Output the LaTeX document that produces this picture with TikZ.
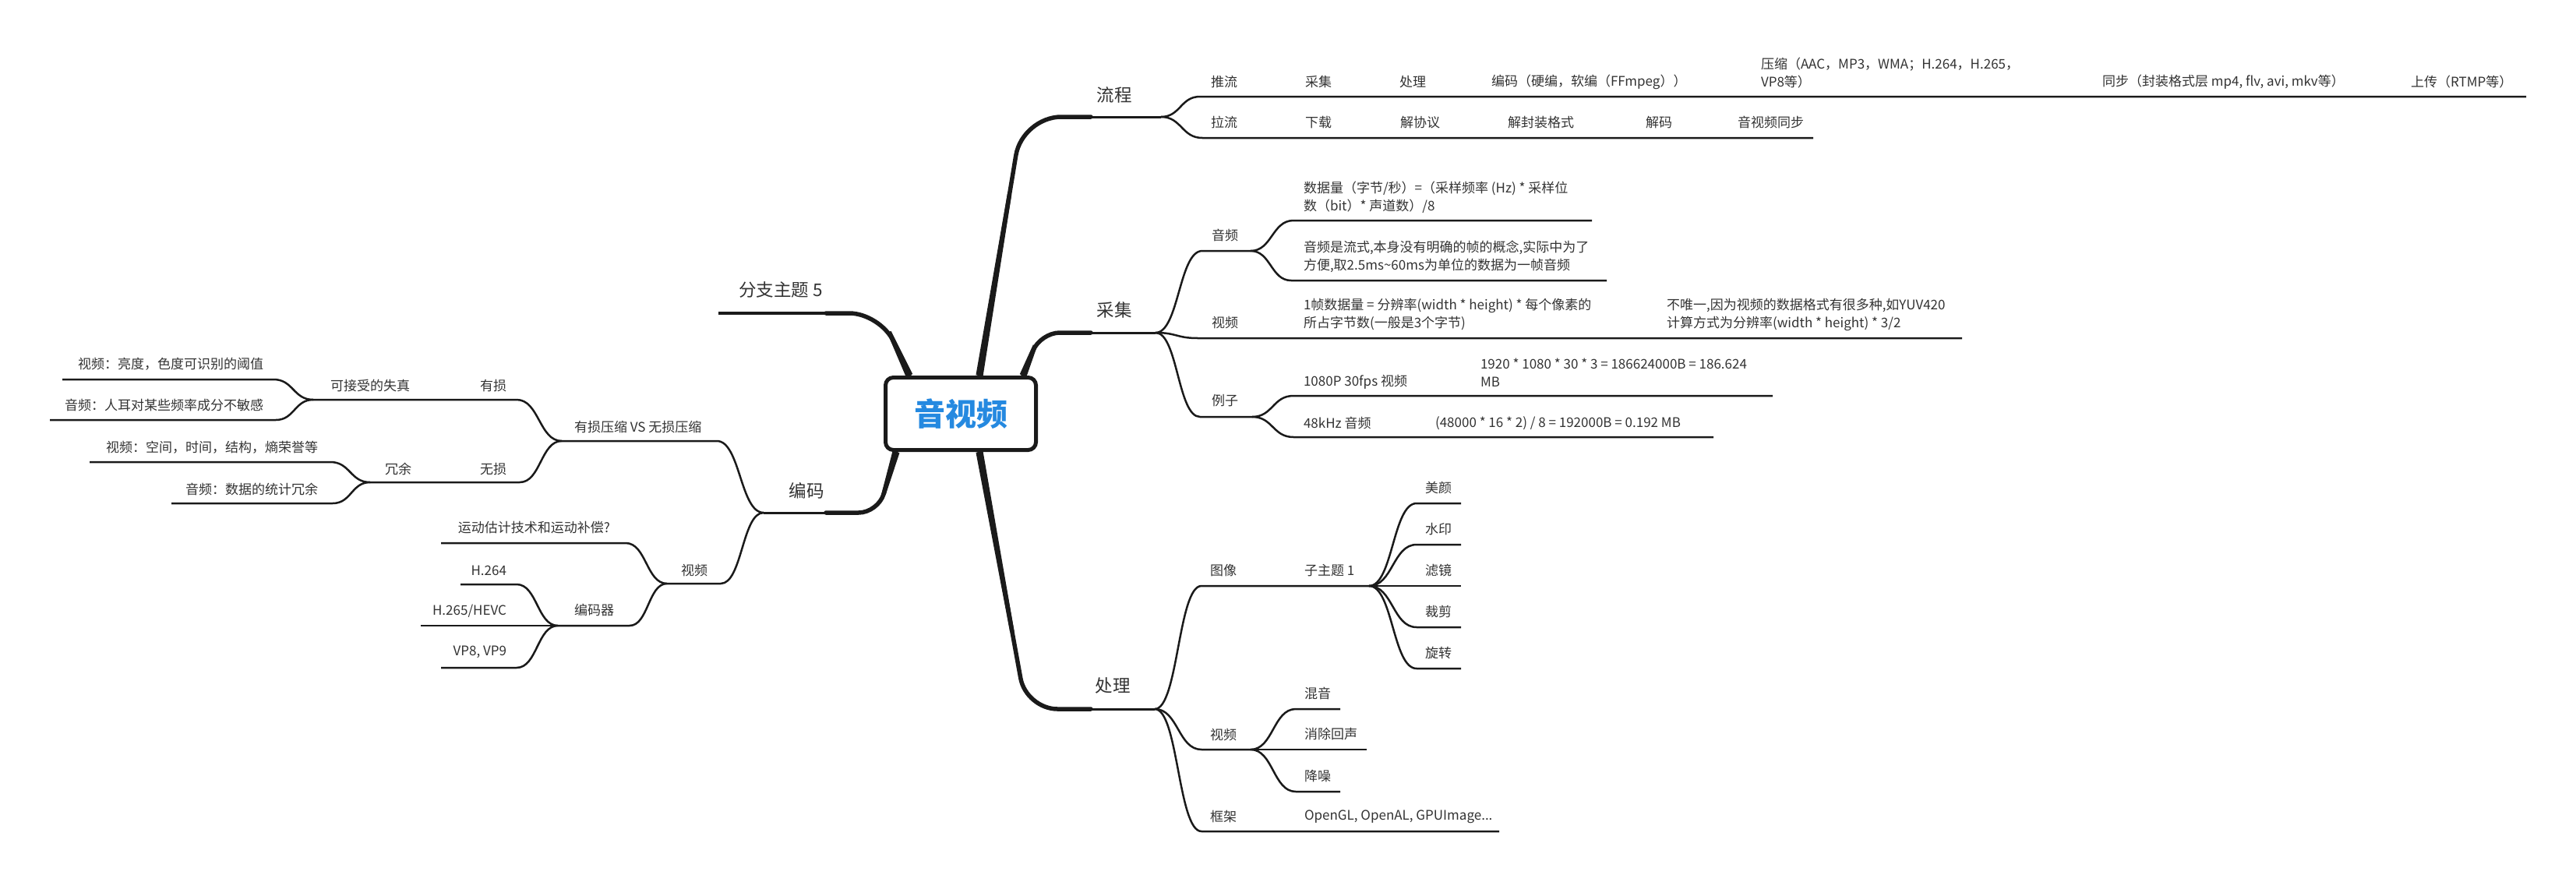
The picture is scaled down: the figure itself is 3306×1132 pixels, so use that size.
\documentclass[tikz,border=0pt]{standalone}
\usepackage{fontspec}
\setmainfont{Noto Sans CJK SC}
\usetikzlibrary{calc}
\definecolor{ink}{HTML}{1A1A1A}
\definecolor{txtc}{HTML}{333333}
\definecolor{rootblue}{HTML}{2589E0}

\tikzset{
  every node/.style={inner sep=0pt, outer sep=0pt, text=txtc},
  lbl/.style={font=\fontsize{17}{23}\selectfont, anchor=west, align=left},
  lblr/.style={font=\fontsize{17}{23}\selectfont, anchor=east, align=right},
  big/.style={font=\fontsize{22.5}{28}\selectfont},
  trunk/.style={draw=ink, line width=5.5pt, rounded corners=#1, line cap=round},
  trunk/.default=40pt,
  stem/.style={draw=ink, line width=3pt},
  twig/.style={draw=ink, line width=2.5pt},
  scurve/.style={to path={let \p1=(\tikztostart), \p2=(\tikztotarget) in
      .. controls (\x1/2+\x2/2,\y1) and (\x1/2+\x2/2,\y2) .. (\tikztotarget)}},
}
% thicker, tapering root end of a main branch: #1 = point on the box, #2 = corner
\newcommand\taperroot[2]{%
  \fill[ink] ($(#1)!4.6pt!90:(#2)$) -- ($($(#1)!0.7!(#2)$)!2.75pt!90:(#2)$)
          -- ($($(#1)!0.7!(#2)$)!2.75pt!-90:(#2)$) -- ($(#1)!4.6pt!-90:(#2)$) -- cycle;}

\begin{document}
\begin{tikzpicture}[x=1pt, y=-1pt]
\fill[white] (0,0) rectangle (3306,1132);
\useasboundingbox (0,0) rectangle (3306,1132);

% ================= 流程 =================
\coordinate (lcB) at (1257,482);
\coordinate (lcK) at (1312,150);
\coordinate (lcE) at (1400,150);
\coordinate (lcJ) at (1490,150);
\draw[trunk=50pt] (lcB) -- (lcK) -- (lcE);
\taperroot{lcB}{lcK}
\draw[stem] (lcE) -- (lcJ);
\node[big] (liucheng) at (1430,122) {流程};

\coordinate (tuiS) at (1540,124); \coordinate (tuiE) at (3242,124);
\coordinate (laS) at (1543,177);  \coordinate (laE) at (2327,177);
\draw[twig] (lcJ) to[scurve] (tuiS) -- (tuiE);
\draw[twig] (lcJ) to[scurve] (laS) -- (laE);

\node[lbl] (tl) at (1554,105) {推流};
\node[lbl] (t2) at (1675,105) {采集};
\node[lbl] (t3) at (1796,105) {处理};
\node[lbl] (t4) at (1914,105) {编码（硬编，软编（FFmpeg））};
\node[lbl] (t5) at (2260,93.5) {压缩（AAC，MP3，WMA；H.264，H.265，\\VP8等）};
\node[lbl] (t6) at (2698,105) {同步（封装格式层 mp4, flv, avi, mkv等）};
\node[lbl] (t7) at (3094,105) {上传（RTMP等）};

\node[lbl] (p1) at (1554,157) {拉流};
\node[lbl] (p2) at (1675,157) {下载};
\node[lbl] (p3) at (1797,157) {解协议};
\node[lbl] (p4) at (1935,157) {解封装格式};
\node[lbl] (p5) at (2112,157) {解码};
\node[lbl] (p6) at (2230,157) {音视频同步};

% ================= 采集 =================
\coordinate (cjB) at (1313,482);
\coordinate (cjK) at (1335,427);
\coordinate (cjE) at (1400,427);
\coordinate (cjJ) at (1483,427);
\draw[trunk=25pt] (cjB) -- (cjK) -- (cjE);
\taperroot{cjB}{cjK}
\draw[stem] (cjE) -- (cjJ);
\node[big] (caiji) at (1430,398) {采集};

% 音频
\coordinate (ypS) at (1543,322); \coordinate (ypJ) at (1605,322);
\draw[twig] (cjJ) to[scurve] (ypS) -- (ypJ);
\node[lbl] (yp) at (1555,302) {音频};
\coordinate (ya1S) at (1660,283); \coordinate (ya1E) at (2043,283);
\coordinate (ya2S) at (1657,360); \coordinate (ya2E) at (2062,360);
\draw[twig] (ypJ) to[scurve] (ya1S) -- (ya1E);
\draw[twig] (ypJ) to[scurve] (ya2S) -- (ya2E);
\node[lbl] (ya1) at (1673,253.5) {数据量（字节/秒）=（采样频率 (Hz) * 采样位\\数（bit）* 声道数）/8};
\node[lbl] (ya2) at (1673,329.5) {音频是流式,本身没有明确的帧的概念,实际中为了\\方便,取2.5ms\textasciitilde60ms为单位的数据为一帧音频};

% 视频
\coordinate (spS) at (1537,434); \coordinate (spE) at (2518,434);
\draw[twig] (cjJ) to[scurve] (spS) -- (spE);
\node[lbl] (sp) at (1555,414) {视频};
\node[lbl] (sp1) at (1673,403.5) {1帧数据量 = 分辨率(width * height) * 每个像素的\\所占字节数(一般是3个字节)};
\node[lbl] (sp2) at (2139,403.5) {不唯一,因为视频的数据格式有很多种,如YUV420\\计算方式为分辨率(width * height) * 3/2};

% 例子
\coordinate (lzS) at (1540,535); \coordinate (lzJ) at (1607,535);
\draw[twig] (cjJ) to[scurve] (lzS) -- (lzJ);
\node[lbl] (lz) at (1555,514) {例子};
\coordinate (lz1S) at (1660,508); \coordinate (lz1E) at (2275,508);
\coordinate (lz2S) at (1660,561); \coordinate (lz2E) at (2199,561);
\draw[twig] (lzJ) to[scurve] (lz1S) -- (lz1E);
\draw[twig] (lzJ) to[scurve] (lz2S) -- (lz2E);
\node[lbl] (lz1) at (1673,490) {1080P 30fps 视频};
\node[lbl] (lz1v) at (1900,478.5) {1920 * 1080 * 30 * 3 = 186624000B = 186.624\\MB};
\node[lbl] (lz2) at (1673,543) {48kHz 音频};
\node[lbl] (lz2v) at (1842,543) {(48000 * 16 * 2) / 8 = 192000B = 0.192 MB};

% ================= 处理 =================
\coordinate (clB) at (1257,580);
\coordinate (clK) at (1317,910);
\coordinate (clE) at (1400,910);
\coordinate (clJ) at (1482,910);
\draw[trunk=40pt] (clB) -- (clK) -- (clE);
\taperroot{clB}{clK}
\draw[stem] (clE) -- (clJ);
\node[big] (chuli) at (1428,880) {处理};

% 图像
\coordinate (txS) at (1542,752); \coordinate (txJ) at (1757,752);
\draw[twig] (clJ) to[scurve] (txS) -- (txJ);
\node[lbl] (tx) at (1553,732) {图像};
\node[lbl] (zt) at (1674,732) {子主题 1};
\foreach \nm/\yy/\tt in {my/646/美颜, sy/699/水印, lj/752/滤镜, cj/805/裁剪, xz/858/旋转}{
  \coordinate (\nm S) at (1818,\yy);
  \coordinate (\nm E) at (1875,\yy);
  \draw[twig] (txJ) to[scurve] (\nm S) -- (\nm E);
  \node[lbl] (\nm) at (1829,\yy-20) {\tt};
}

% 视频
\coordinate (clvS) at (1542,962); \coordinate (clvJ) at (1605,962);
\draw[twig] (clJ) to[scurve] (clvS) -- (clvJ);
\node[lbl] (clv) at (1553,943) {视频};
\coordinate (hyS) at (1663,910);  \coordinate (hyE) at (1720,910);
\coordinate (xcS) at (1663,962);  \coordinate (xcE) at (1754,962);
\coordinate (jzS) at (1663,1016); \coordinate (jzE) at (1720,1016);
\draw[twig] (clvJ) to[scurve] (hyS) -- (hyE);
\draw[twig] (clvJ) to[scurve] (xcS) -- (xcE);
\draw[twig] (clvJ) to[scurve] (jzS) -- (jzE);
\node[lbl] (hy) at (1674,890) {混音};
\node[lbl] (xc) at (1674,942) {消除回声};
\node[lbl] (jz) at (1674,996) {降噪};

% 框架
\coordinate (kjS) at (1542,1067); \coordinate (kjE) at (1924,1067);
\draw[twig] (clJ) to[scurve] (kjS) -- (kjE);
\node[lbl] (kj) at (1553,1048) {框架};
\node[lbl] (kjv) at (1674,1048) {OpenGL, OpenAL, GPUImage...};

% ================= 分支主题 5 =================
\coordinate (fzB) at (1167,482);
\coordinate (fzK) at (1130,402);
\coordinate (fzE) at (1060,402);
\coordinate (fzJ) at (922,402);
\draw[trunk=40pt] (fzB) -- (fzK) -- (fzE);
\taperroot{fzB}{fzK}
\draw[stem, line width=3.4pt] (fzE) -- (fzJ);
\node[big, anchor=west] (fz) at (948,372) {分支主题 5};

% ================= 编码 =================
\coordinate (bmB) at (1150,580);
\coordinate (bmK) at (1127,658);
\coordinate (bmE) at (1060,658);
\coordinate (bmJ) at (980,658);
\draw[trunk=25pt] (bmB) -- (bmK) -- (bmE);
\taperroot{bmB}{bmK}
\draw[stem] (bmE) -- (bmJ);
\node[big] (bianma) at (1035,630) {编码};

% 有损压缩 VS 无损压缩
\coordinate (ysS) at (920,566); \coordinate (ysJ) at (721,566);
\draw[twig] (bmJ) to[scurve] (ysS) -- (ysJ);
\node[lbl] (ys) at (737,548) {有损压缩 VS 无损压缩};

\coordinate (ylS) at (663,513); \coordinate (ylJ) at (402,513);
\draw[twig] (ysJ) to[scurve] (ylS) -- (ylJ);
\node[lbl] (yl) at (616,495) {有损};
\node[lbl] (kjs) at (424,495) {可接受的失真};
\coordinate (yl1S) at (351,487); \coordinate (yl1E) at (80,487);
\coordinate (yl2S) at (354,539); \coordinate (yl2E) at (64,539);
\draw[twig] (ylJ) to[scurve] (yl1S) -- (yl1E);
\draw[twig] (ylJ) to[scurve] (yl2S) -- (yl2E);
\node[lblr] (yl1) at (338,467) {视频：亮度，色度可识别的阈值};
\node[lblr] (yl2) at (338,520) {音频：人耳对某些频率成分不敏感};

\coordinate (wlS) at (667,619); \coordinate (wlJ) at (475,619);
\draw[twig] (ysJ) to[scurve] (wlS) -- (wlJ);
\node[lbl] (wl) at (616,602) {无损};
\node[lbl] (ry) at (494,602) {冗余};
\coordinate (wl1S) at (424,593); \coordinate (wl1E) at (115,593);
\coordinate (wl2S) at (427,646); \coordinate (wl2E) at (220,646);
\draw[twig] (wlJ) to[scurve] (wl1S) -- (wl1E);
\draw[twig] (wlJ) to[scurve] (wl2S) -- (wl2E);
\node[lblr] (wl1) at (408,574) {视频：空间，时间，结构，熵荣誉等};
\node[lblr] (wl2) at (408,628) {音频：数据的统计冗余};

% 视频
\coordinate (bvS) at (925,749); \coordinate (bvJ) at (856,749);
\draw[twig] (bmJ) to[scurve] (bvS) -- (bvJ);
\node[lbl] (bv) at (874,732) {视频};
\coordinate (ydS) at (803,697); \coordinate (ydE) at (566,697);
\draw[twig] (bvJ) to[scurve] (ydS) -- (ydE);
\node[lblr] (yd) at (783,677) {运动估计技术和运动补偿?};
\coordinate (bqS) at (808,803); \coordinate (bqJ) at (716,803);
\draw[twig] (bvJ) to[scurve] (bqS) -- (bqJ);
\node[lbl] (bq) at (737,783) {编码器};
\coordinate (h4S) at (663,750); \coordinate (h4E) at (591,750);
\coordinate (h5E) at (540,803);
\coordinate (vpS) at (663,857); \coordinate (vpE) at (566,857);
\draw[twig] (bqJ) to[scurve] (h4S) -- (h4E);
\draw[twig] (bqJ) -- (h5E);
\draw[twig] (bqJ) to[scurve] (vpS) -- (vpE);
\node[lblr] (h4) at (650,732) {H.264};
\node[lblr] (h5) at (650,784) {H.265/HEVC};
\node[lblr] (vp) at (650,837) {VP8, VP9};

% ================= 中心主题 =================
\node[draw=ink, line width=5pt, rounded corners=10pt, fill=white,
      minimum width=193pt, minimum height=93pt,
      text=rootblue, font=\fontsize{40}{48}\selectfont\bfseries] (root) at (1233,531) {音视频};
\end{tikzpicture}
\end{document}
